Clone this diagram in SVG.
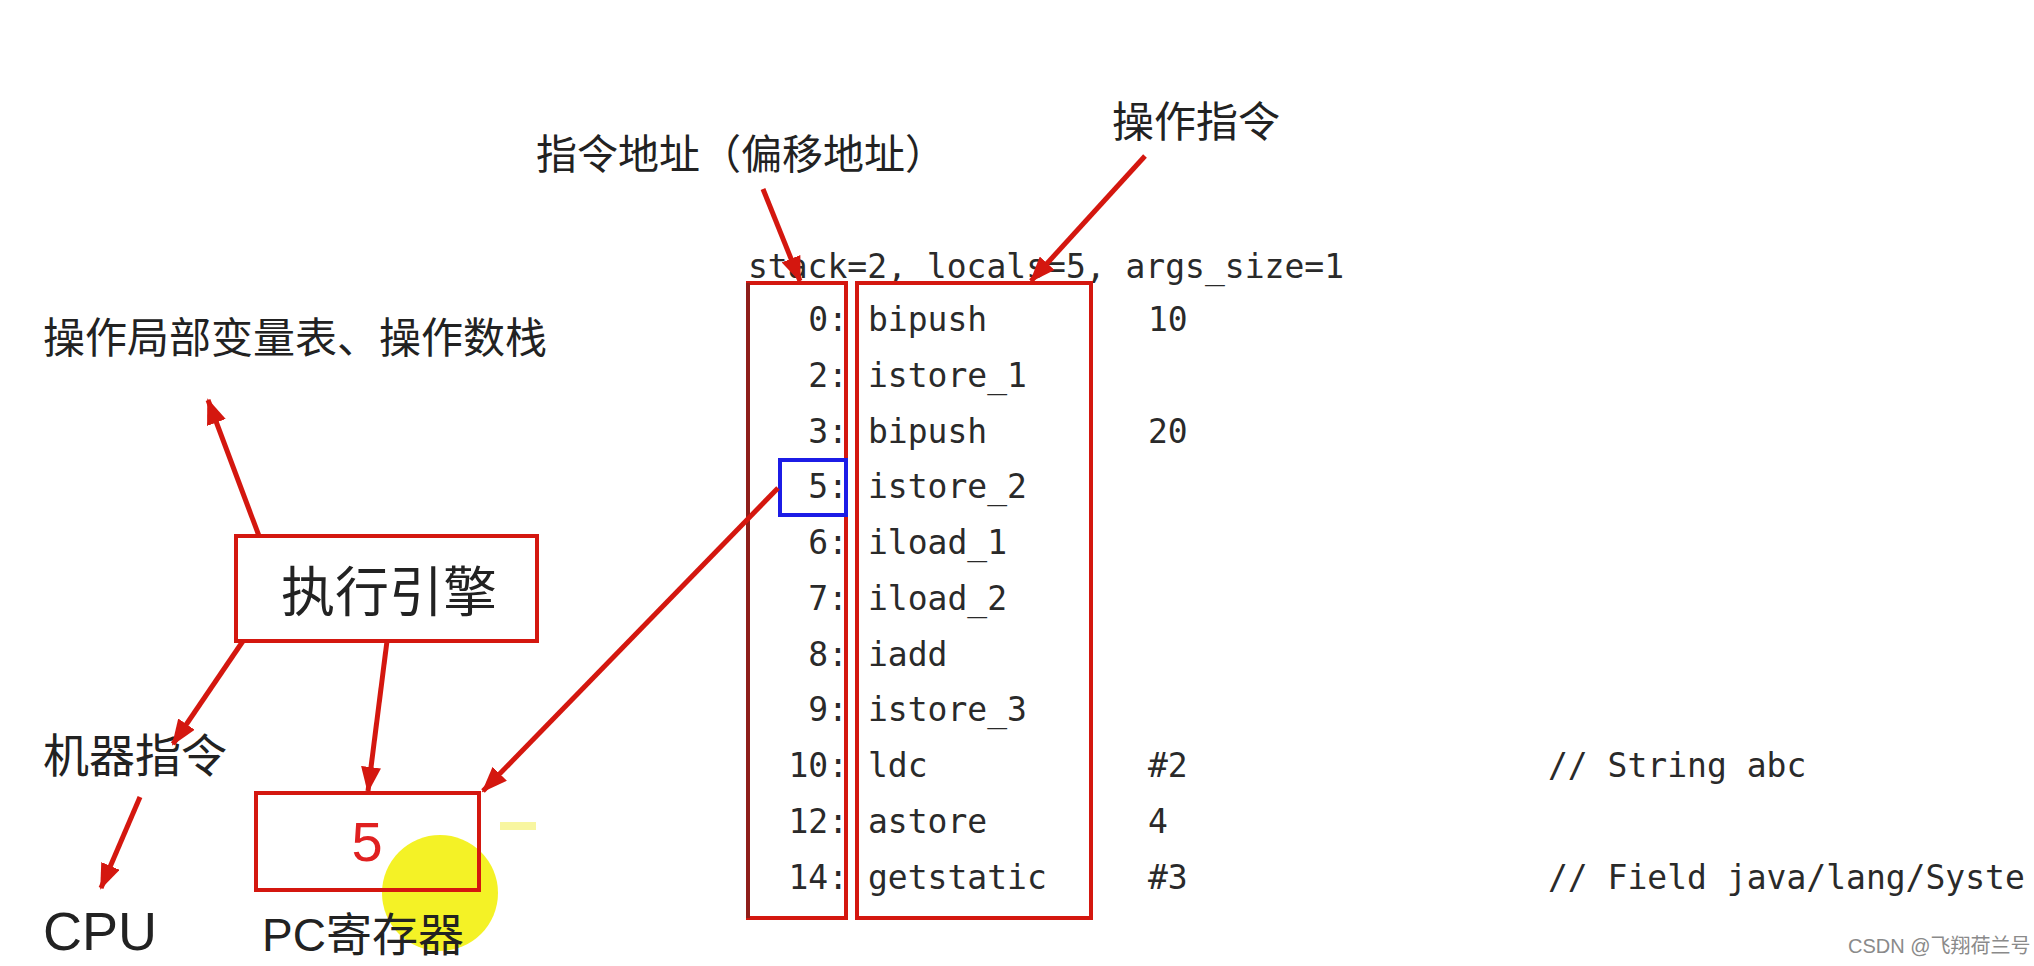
<svg xmlns="http://www.w3.org/2000/svg" width="2034" height="966" viewBox="0 0 2034 966">
<style>
.cjk{font-family:"Noto Sans CJK SC","Liberation Sans",sans-serif;fill:#222}
.lat{font-family:"Liberation Sans","Noto Sans CJK SC",sans-serif;fill:#222}
.code{font-family:"DejaVu Sans Mono","Liberation Mono",monospace;font-size:33px;fill:#2a2a2a}
.num{text-anchor:end}
.box{fill:none;stroke:#d4170f;stroke-width:4}
.arr{stroke:#d4170f;stroke-width:5;fill:none;marker-end:url(#ah)}
</style>
<defs>
<marker id="ah" markerUnits="userSpaceOnUse" markerWidth="26" markerHeight="20" refX="24" refY="10" orient="auto">
<path d="M0,0 L26,10 L0,20 Z" fill="#d4170f"/>
</marker>
</defs>
<rect width="2034" height="966" fill="#ffffff"/>

<g id="cursor-highlight">
<circle cx="440" cy="893" r="58" fill="#f2f000" opacity="0.85"/>
<rect x="500" y="822" width="36" height="8" fill="#f4f060" opacity="0.6"/>
</g>

<g id="label-offset">
<text class="cjk" x="536" y="169" font-size="41">指令地址（偏移地址）</text>
</g>
<g id="label-opcode">
<text class="cjk" x="1112" y="137" font-size="42">操作指令</text>
</g>
<g id="label-locals">
<text class="cjk" x="43" y="353" font-size="42">操作局部变量表、操作数栈</text>
</g>
<g id="engine">
<rect class="box" x="236" y="536" width="301" height="105"/>
<text class="cjk" x="389" y="612" font-size="54" text-anchor="middle">执行引擎</text>
</g>
<g id="machine-code">
<text class="cjk" x="43" y="772" font-size="46">机器指令</text>
</g>
<g id="cpu">
<text class="lat" x="43" y="950" font-size="54">CPU</text>
</g>
<g id="pc-register">
<rect class="box" x="256" y="793" width="223" height="97"/>
<text x="367" y="861" font-size="56" text-anchor="middle" font-family="Liberation Sans, sans-serif" fill="#e02020">5</text>
<text class="lat" x="262" y="951" font-size="46">PC寄存器</text>
</g>

<g id="bytecode">
<text class="code" x="748" y="278">stack=2, locals=5, args_size=1</text>
<g class="code">
<text class="code num" x="848" y="331">0:</text><text class="code" x="868" y="331">bipush</text><text class="code" x="1148" y="331">10</text>
<text class="code num" x="848" y="387">2:</text><text class="code" x="868" y="387">istore_1</text>
<text class="code num" x="848" y="443">3:</text><text class="code" x="868" y="443">bipush</text><text class="code" x="1148" y="443">20</text>
<text class="code num" x="848" y="498">5:</text><text class="code" x="868" y="498">istore_2</text>
<text class="code num" x="848" y="554">6:</text><text class="code" x="868" y="554">iload_1</text>
<text class="code num" x="848" y="610">7:</text><text class="code" x="868" y="610">iload_2</text>
<text class="code num" x="848" y="666">8:</text><text class="code" x="868" y="666">iadd</text>
<text class="code num" x="848" y="721">9:</text><text class="code" x="868" y="721">istore_3</text>
<text class="code num" x="848" y="777">10:</text><text class="code" x="868" y="777">ldc</text><text class="code" x="1148" y="777">#2</text><text class="code" x="1548" y="777">// String abc</text>
<text class="code num" x="848" y="833">12:</text><text class="code" x="868" y="833">astore</text><text class="code" x="1148" y="833">4</text>
<text class="code num" x="848" y="889">14:</text><text class="code" x="868" y="889">getstatic</text><text class="code" x="1148" y="889">#3</text><text class="code" x="1548" y="889">// Field java/lang/Syste</text>
</g>
</g>

<g id="address-box">
<rect class="box" x="748" y="283" width="98" height="635"/>
<line x1="748" y1="283" x2="748" y2="918" stroke="#8e1e1a" stroke-width="4"/>
</g>
<g id="opcode-box">
<rect class="box" x="857" y="283" width="234" height="635"/>
</g>
<g id="current-address">
<rect x="780" y="460" width="66" height="55" fill="none" stroke="#1c1ce6" stroke-width="4"/>
</g>

<g id="connectors">
<line class="arr" x1="763" y1="189" x2="800" y2="281"/>
<line class="arr" x1="1145" y1="156" x2="1031" y2="281"/>
<line class="arr" x1="259" y1="536" x2="208" y2="400"/>
<line class="arr" x1="243" y1="641" x2="173" y2="744"/>
<line class="arr" x1="387" y1="641" x2="368" y2="791"/>
<line class="arr" x1="778" y1="488" x2="483" y2="791"/>
<line class="arr" x1="140" y1="797" x2="101" y2="888"/>
</g>

<g id="watermark">
<text x="1848" y="953" font-size="20" font-family="Liberation Sans, Noto Sans CJK SC, sans-serif" fill="#8a8a8a">CSDN @飞翔荷兰号</text>
</g>
</svg>
